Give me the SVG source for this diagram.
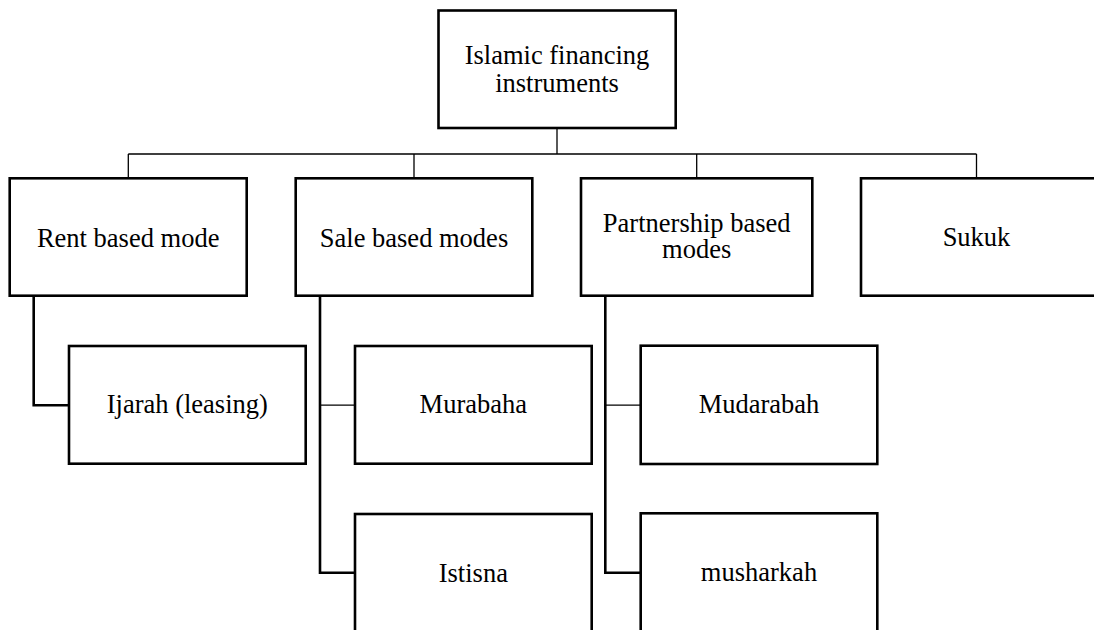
<svg xmlns="http://www.w3.org/2000/svg" width="1094" height="630" viewBox="0 0 1094 630">
<style>
.box{fill:#fff;stroke:#000;stroke-width:2.6}
.t{font-family:'Liberation Serif','Times New Roman',serif;font-size:26.5px;fill:#000;text-anchor:middle}
.thin{fill:none;stroke:#000;stroke-width:1.3}
.thick{fill:none;stroke:#000;stroke-width:2.6}
</style>
<rect width="1094" height="630" fill="#fff"/>
<g id="connectors">
<path class="thin" d="M557 128V154M128.3 154H976.5M128.3 154V178.3M414 154V178.3M696.7 154V178.3M976.5 154V178.3"/>
<path class="thick" d="M33.7 295.7V405.3H69"/>
<path class="thick" d="M320 295.7V572.7H355"/>
<path class="thin" d="M320 405.2H355"/>
<path class="thick" d="M605.3 295.7V572.7H640.7"/>
<path class="thin" d="M605.3 405.2H640.7"/>
</g>
<g id="root"><rect class="box" x="438.5" y="10.5" width="237.2" height="117.5"/>
<text class="t" x="557" y="64.3">Islamic financing</text><text class="t" x="557" y="92">instruments</text></g>
<g id="rent"><rect class="box" x="9.7" y="178.3" width="237" height="117.4"/><text class="t" x="128.2" y="246.5">Rent based mode</text></g>
<g id="sale"><rect class="box" x="295.7" y="178.3" width="236.6" height="117.4"/><text class="t" x="414" y="246.5">Sale based modes</text></g>
<g id="partnership"><rect class="box" x="581" y="178.3" width="231.3" height="117.4"/><text class="t" x="696.7" y="231.7">Partnership based</text><text class="t" x="696.7" y="258.3">modes</text></g>
<g id="sukuk"><rect class="box" x="861" y="178.3" width="237" height="117.4"/><text class="t" x="976.5" y="246">Sukuk</text></g>
<g id="ijarah"><rect class="box" x="69" y="346" width="236.7" height="117.7"/><text class="t" x="187.3" y="413.3">Ijarah (leasing)</text></g>
<g id="murabaha"><rect class="box" x="355" y="346" width="236.7" height="117.7"/><text class="t" x="473.3" y="413.3">Murabaha</text></g>
<g id="istisna"><rect class="box" x="355" y="514" width="236.7" height="118"/><text class="t" x="473.3" y="581.7">Istisna</text></g>
<g id="mudarabah"><rect class="box" x="640.7" y="345.7" width="236.6" height="118.3"/><text class="t" x="759" y="413.3">Mudarabah</text></g>
<g id="musharkah"><rect class="box" x="640.7" y="513.3" width="236.6" height="118.7"/><text class="t" x="759" y="580.7">musharkah</text></g>
</svg>
